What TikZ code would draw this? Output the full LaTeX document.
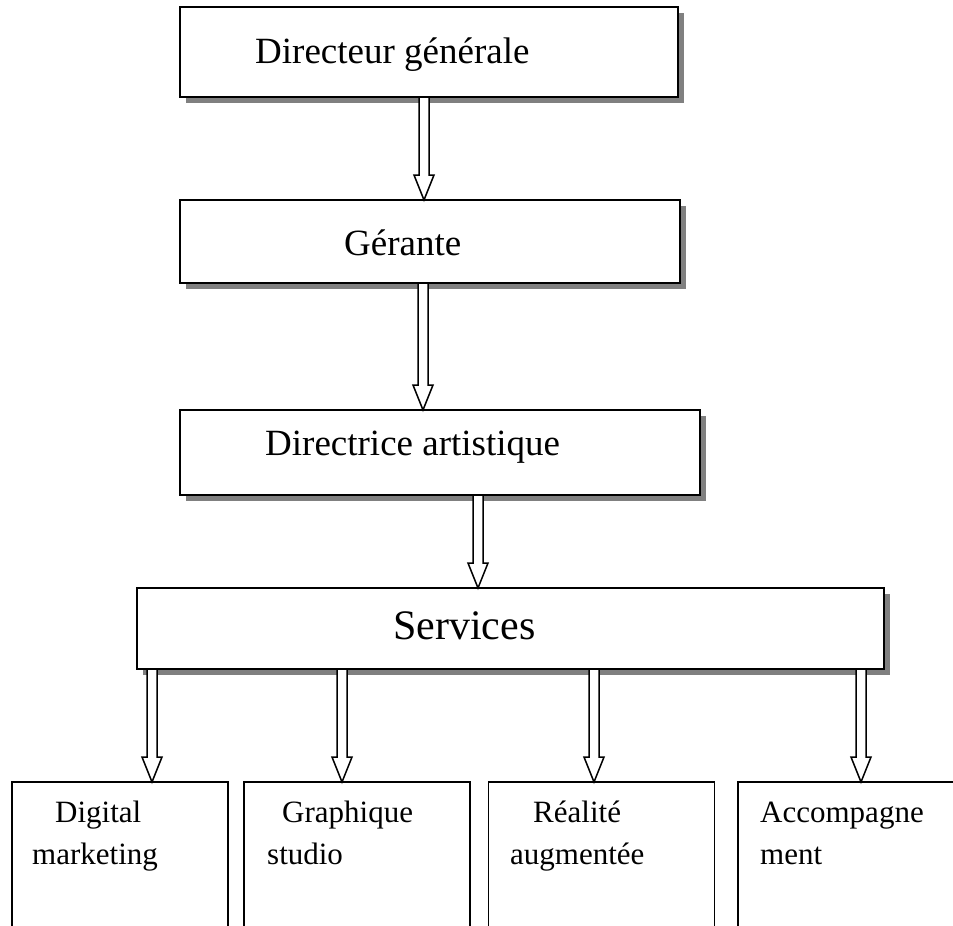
\documentclass[tikz,border=0pt]{standalone}
\usepackage{fontspec}
\setmainfont{Liberation Serif}
\usetikzlibrary{calc,shadows}

\tikzset{
  box/.style={draw, line width=1.8pt, fill=white, inner sep=0pt, outer sep=0pt},
  shadowbox/.style={box, drop shadow={shadow xshift=6pt, shadow yshift=-6pt, fill=gray, opacity=1}},
  lbl/.style={inner sep=0pt, anchor=base west},
  big/.style={lbl, font=\fontsize{37pt}{44pt}\selectfont},
  bigger/.style={lbl, font=\fontsize{42pt}{50pt}\selectfont},
  small/.style={lbl, font=\fontsize{31pt}{38pt}\selectfont},
  hollow/.style={draw, line width=1.5pt, fill=white, line join=miter},
}

% hollow block arrow: x position, source node, target node
\newcommand{\hollowarrow}[3]{%
  \path (#1,0 |- #2.south) coordinate (s) (#1,0 |- #3.north) coordinate (t);
  \draw[hollow] ($(s)+(-5,0)$) -- ($(t)+(-5,-25)$) -- ($(t)+(-10,-25)$) -- (t)
    -- ($(t)+(10,-25)$) -- ($(t)+(5,-25)$) -- ($(s)+(5,0)$) -- cycle;}

\begin{document}
\begin{tikzpicture}[x=1pt, y=-1pt]
    \useasboundingbox (0,0) rectangle (953,926);
    \clip (0,0) rectangle (953,926);

    % boxes
    \node[shadowbox, minimum width=498, minimum height=90] (dg)   at (429,52)    {};
    \node[shadowbox, minimum width=500, minimum height=83] (ger)  at (430,241.5) {};
    \node[shadowbox, minimum width=520, minimum height=85] (dir)  at (440,452.5) {};
    \node[shadowbox, minimum width=747, minimum height=81] (serv) at (510.5,628.5) {};

    \node[box, minimum width=216, minimum height=200] (dm)  at (120,882) {};
    \node[box, minimum width=226, minimum height=200] (gs)  at (357,882) {};
    \node[box, minimum width=226, minimum height=200] (ra)  at (601.5,882) {};
    \node[box, minimum width=226, minimum height=200] (acc) at (851,882) {};

    % arrows
    \hollowarrow{424}{dg}{ger}
    \hollowarrow{423}{ger}{dir}
    \hollowarrow{478}{dir}{serv}
    \hollowarrow{152}{serv}{dm}
    \hollowarrow{342}{serv}{gs}
    \hollowarrow{594}{serv}{ra}
    \hollowarrow{861}{serv}{acc}

    % texts
    \node[big]    (dgt)   at (255,63)  {Directeur générale};
    \node[big]    (gert)  at (344,255) {Gérante};
    \node[big]    (dirt)  at (265,455) {Directrice artistique};
    \node[bigger] (servt) at (393,639) {Services};

    \node[small] (dm1)  at (55,822)  {Digital};
    \node[small] (dm2)  at (32,864)  {marketing};
    \node[small] (gs1)  at (282,822) {Graphique};
    \node[small] (gs2)  at (267,864) {studio};
    \node[small] (ra1)  at (533,822) {Réalité};
    \node[small] (ra2)  at (510,864) {augmentée};
    \node[small] (acc1) at (760,822) {Accompagne};
    \node[small] (acc2) at (760,864) {ment};
\end{tikzpicture}
\end{document}
